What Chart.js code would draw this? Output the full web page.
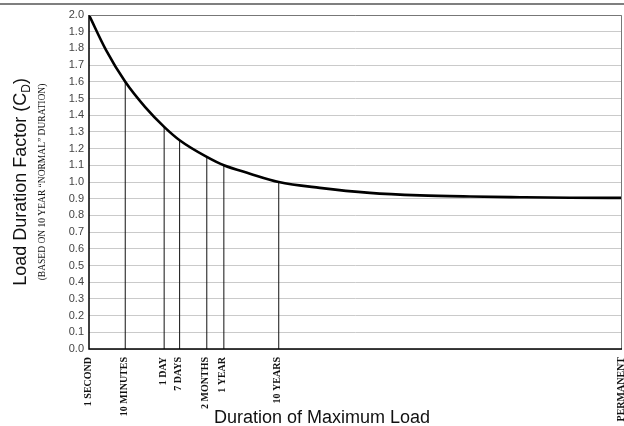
<!DOCTYPE html>
<html>
<head>
<meta charset="utf-8">
<script src="https://cdn.jsdelivr.net/npm/chart.js@4.4.1/dist/chart.umd.min.js"></script>
<style>
  html, body { margin:0; padding:0; background:#fff; }
  #wrap { width:624px; height:426px; position:relative; }
</style>
</head>
<body>
<div id="wrap"><canvas id="chart_cd" width="624" height="426"></canvas></div>
<script>
// duration markers on the x axis (position on a 0..100 scale)
const durLabels = ['1 SECOND', '10 MINUTES', '1 DAY', '7 DAYS', '2 MONTHS', '1 YEAR', '10 YEARS', 'PERMANENT'];
const durPos = [0, 6.8, 14.1, 17.0, 22.1, 25.3, 35.6, 100];
const durFactor = [2.0, 1.6, 1.33, 1.25, 1.15, 1.10, 1.0, 0.9];

// load duration curve
const curveX = [0, 3.2, 6.8, 10.5, 14.1, 17.0, 22.1, 25.3, 30.2, 35.6, 43.3, 52.7, 62.1, 71.5, 80.9, 90.2, 100];
const curveY = [2.0, 1.79, 1.6, 1.45, 1.33, 1.25, 1.15, 1.10, 1.05, 1.0, 0.965, 0.935, 0.92, 0.913, 0.909, 0.906, 0.905];

(function(){
  const el = id => document.getElementById(id);

  const curvePts = curveX.map((x, i) => ({ x: x, y: curveY[i] }));
  const dropPts = [];
  durPos.forEach((p, i) => {
    if(p <= 0 || p >= 100) return;
    dropPts.push({ x: p, y: 0 }, { x: p, y: durFactor[i] }, { x: p, y: null });
  });

  // titles, frame and the scan's top rule
  const decor = {
    id: 'decor',
    afterDraw(chart){
      const ctx = chart.ctx, a = chart.chartArea;
      ctx.save();
      ctx.strokeStyle = '#555'; ctx.lineWidth = 1.5;
      ctx.beginPath(); ctx.moveTo(0, 4); ctx.lineTo(624, 4); ctx.stroke();
      ctx.strokeStyle = '#777'; ctx.lineWidth = 1;
      ctx.beginPath(); ctx.moveTo(a.left, a.top + 0.5); ctx.lineTo(a.right - 0.5, a.top + 0.5); ctx.lineTo(a.right - 0.5, a.bottom); ctx.stroke();
      ctx.strokeStyle = '#000'; ctx.lineWidth = 1.5;
      ctx.beginPath(); ctx.moveTo(a.left, a.top); ctx.lineTo(a.left, a.bottom); ctx.lineTo(a.right, a.bottom); ctx.stroke();

      const cy = (a.top + a.bottom) / 2;
      // main y title with subscript D
      ctx.fillStyle = '#111';
      ctx.translate(26, cy); ctx.rotate(-Math.PI / 2);
      const big = '18px "Liberation Sans", Arial, sans-serif';
      const sub = '12px "Liberation Sans", Arial, sans-serif';
      const t1 = 'Load Duration Factor (C', t2 = 'D', t3 = ')';
      ctx.font = big; const w1 = ctx.measureText(t1).width, w3 = ctx.measureText(t3).width;
      ctx.font = sub; const w2 = ctx.measureText(t2).width;
      let x0 = -(w1 + w2 + w3) / 2;
      ctx.textBaseline = 'alphabetic'; ctx.textAlign = 'left';
      ctx.font = big; ctx.fillText(t1, x0, 0);
      ctx.font = sub; ctx.fillText(t2, x0 + w1, 4);
      ctx.font = big; ctx.fillText(t3, x0 + w1 + w2, 0);
      // subtitle
      ctx.font = '9.5px "Liberation Serif", "Times New Roman", serif';
      ctx.textAlign = 'center'; ctx.textBaseline = 'middle';
      ctx.fillText('(BASED ON 10 YEAR \u201CNORMAL\u201D DURATION)', 0, 16);
      ctx.restore();

      ctx.save();
      ctx.fillStyle = '#111';
      ctx.font = '18px "Liberation Sans", Arial, sans-serif';
      ctx.textAlign = 'center'; ctx.textBaseline = 'alphabetic';
      ctx.fillText('Duration of Maximum Load', 322, 423);
      ctx.restore();
    }
  };

  new Chart(el('chart_cd'), {
    type: 'line',
    data: { datasets: [
      { label: 'CD', data: curvePts, borderColor: '#000', borderWidth: 2.6, pointRadius: 0, cubicInterpolationMode: 'monotone', fill: false },
      { label: 'drops', data: dropPts, borderColor: '#111', borderWidth: 1, pointRadius: 0, spanGaps: false, tension: 0, fill: false }
    ] },
    options: {
      responsive: false, animation: false, devicePixelRatio: 1,
      layout: { padding: { top: 15, right: 2, left: 0, bottom: 0 } },
      plugins: { legend: { display: false }, tooltip: { enabled: false } },
      scales: {
        x: {
          type: 'linear', min: 0, max: 100,
          grid: { display: false },
          border: { display: false },
          afterBuildTicks: axis => { axis.ticks = durPos.map(v => ({ value: v })); },
          afterFit: axis => { axis.height = 77; axis.paddingLeft = 0; axis.paddingRight = 0; },
          ticks: {
            autoSkip: false, minRotation: 90, maxRotation: 90, padding: 0, labelOffset: -1,
            color: '#111', font: { family: '"Liberation Serif", "Times New Roman", serif', size: 10, weight: 'bold' },
            callback: v => { const i = durPos.indexOf(v); return i >= 0 ? durLabels[i] : ''; }
          }
        },
        y: {
          min: 0, max: 2,
          border: { display: false },
          grid: { color: '#bdbdbd', lineWidth: 0.8, tickLength: 0, drawTicks: false },
          afterFit: axis => { axis.width = 89; axis.paddingTop = 0; axis.paddingBottom = 0; },
          ticks: {
            stepSize: 0.1, padding: 5, color: '#444',
            font: { family: '"Liberation Sans", Arial, sans-serif', size: 11 },
            callback: v => Number(v).toFixed(1)
          }
        }
      }
    },
    plugins: [decor]
  });
})();
</script>
</body>
</html>
